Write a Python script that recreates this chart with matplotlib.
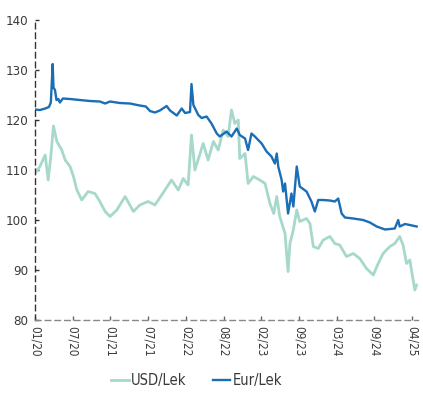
import matplotlib
matplotlib.use("Agg")
import matplotlib.pyplot as plt
from matplotlib import font_manager

# Axis positions are in units of one tick interval (10 intervals, 01/20 .. 04/25)
tick_labels = ["01/20", "07/20", "01/21", "07/21", "02/22", "08/22",
               "02/23", "09/23", "03/24", "09/24", "04/25"]

eur_x = [0.00, 0.13, 0.27, 0.37, 0.42, 0.47, 0.49, 0.53, 0.57, 0.62, 0.66, 0.74,
         0.93, 1.19, 1.46, 1.72, 1.86, 1.99, 2.25, 2.52, 2.78, 2.94, 3.05, 3.18,
         3.31, 3.49, 3.58, 3.76, 3.89, 3.98, 4.11, 4.15, 4.20, 4.33, 4.42, 4.55,
         4.68, 4.82, 4.90, 5.08, 5.21, 5.35, 5.43, 5.57, 5.65, 5.74, 5.83, 6.01,
         6.14, 6.27, 6.36, 6.41, 6.45, 6.54, 6.58, 6.63, 6.71, 6.80, 6.85, 6.94,
         7.02, 7.20, 7.33, 7.42, 7.51, 7.64, 7.82, 7.95, 8.04, 8.13, 8.22, 8.44,
         8.70, 8.88, 9.06, 9.28, 9.54, 9.63, 9.67, 9.81, 9.94, 10.12]
eur_lek = [122.1, 122.0, 122.3, 122.6, 123.5, 131.2, 126.5, 126.0, 124.0, 124.2,
           123.5, 124.3, 124.2, 124.0, 123.8, 123.7, 123.3, 123.7, 123.4, 123.3,
           122.9, 122.7, 121.8, 121.5, 121.9, 122.8, 121.9, 120.9, 122.3, 121.4,
           121.6, 127.2, 123.0, 121.0, 120.4, 120.7, 119.3, 117.3, 116.7, 117.7,
           116.7, 118.3, 117.0, 116.3, 114.0, 117.3, 116.7, 115.3, 113.7, 112.7,
           111.3, 113.3, 110.7, 108.0, 105.7, 107.3, 101.3, 105.3, 102.7, 110.7,
           106.7, 105.7, 103.7, 101.7, 104.0, 104.0, 103.9, 103.7, 104.3, 101.3,
           100.5, 100.3, 100.0, 99.5, 98.7, 98.1, 98.3, 100.0, 98.7, 99.2, 99.0,
           98.7]

usd_x = [0.00, 0.13, 0.27, 0.35, 0.42, 0.49, 0.58, 0.71, 0.80, 0.93, 1.02, 1.11,
         1.24, 1.41, 1.59, 1.72, 1.86, 1.99, 2.17, 2.39, 2.61, 2.78, 3.00, 3.18,
         3.36, 3.62, 3.80, 3.93, 4.06, 4.15, 4.24, 4.46, 4.59, 4.73, 4.86, 4.99,
         5.12, 5.21, 5.30, 5.39, 5.43, 5.57, 5.65, 5.79, 5.96, 6.10, 6.23, 6.33,
         6.41, 6.49, 6.63, 6.71, 6.76, 6.85, 6.94, 7.02, 7.20, 7.29, 7.38, 7.51,
         7.64, 7.82, 7.95, 8.08, 8.26, 8.44, 8.61, 8.79, 8.97, 9.10, 9.23, 9.41,
         9.54, 9.67, 9.76, 9.85, 9.94, 10.01, 10.07, 10.12]
usd_lek = [109.3, 110.7, 113.0, 108.0, 112.7, 118.8, 115.7, 114.0, 112.0, 110.7,
           108.7, 106.0, 104.0, 105.7, 105.3, 103.7, 101.7, 100.7, 102.0, 104.7,
           101.7, 103.0, 103.7, 103.0, 105.0, 108.0, 106.0, 108.3, 107.0, 117.0,
           110.0, 115.3, 112.0, 115.7, 114.0, 118.0, 116.7, 122.0, 119.3, 120.0,
           112.3, 113.3, 107.3, 108.7, 108.0, 107.3, 103.3, 101.3, 104.7, 100.7,
           97.3, 89.7, 95.3, 98.0, 102.0, 99.7, 100.3, 99.3, 94.7, 94.3, 96.0,
           96.7, 95.3, 95.0, 92.7, 93.3, 92.3, 90.3, 89.0, 91.3, 93.3, 94.7, 95.3,
           96.7, 95.0, 91.3, 92.0, 88.7, 86.0, 87.0]

y_ticks = [80, 90, 100, 110, 120, 130, 140]

# Prefer a condensed face when one is installed
names = {f.name for f in font_manager.fontManager.ttflist}
condensed = [f for f in font_manager.fontManager.ttflist
             if f.name == "DejaVu Sans" and f.stretch in ("condensed", "semi-condensed")]
if "Liberation Sans Narrow" in names:
    plt.rcParams["font.family"] = ["Liberation Sans Narrow", "DejaVu Sans"]
else:
    plt.rcParams["font.family"] = ["DejaVu Sans"]
    if condensed:
        plt.rcParams["font.stretch"] = "condensed"

fig = plt.figure(figsize=(4.23, 3.94), dpi=100)
ax = fig.add_axes([0.0827, 0.1878, 0.905, 0.7614])

usd_color = "#a6d8cb"
eur_color = "#1a6eb5"
ax.plot(usd_x, usd_lek, color=usd_color, lw=2.0, label="USD/Lek", solid_joinstyle="round")
ax.plot(eur_x, eur_lek, color=eur_color, lw=1.7, label="Eur/Lek", solid_joinstyle="round")

ax.set_xlim(0, 10.15)
ax.set_ylim(80, 140)
ax.set_yticks(y_ticks)
ax.set_xticks(range(len(tick_labels)))
ax.set_xticklabels(tick_labels, rotation=270, va="top", ha="center")

for side in ("top", "right"):
    ax.spines[side].set_visible(False)
ax.spines["left"].set_linestyle((0, (4, 3)))
ax.spines["left"].set_color("#333333")
ax.spines["left"].set_linewidth(1.0)
ax.spines["bottom"].set_linestyle((0, (4, 3)))
ax.spines["bottom"].set_color("#888888")
ax.spines["bottom"].set_linewidth(1.0)

ax.tick_params(axis="y", direction="in", length=3, width=1, color="#333333",
               labelsize=9.5, labelcolor="#3a3a3a", pad=5)
ax.tick_params(axis="x", direction="in", length=3, width=1, color="#666666",
               labelsize=8.5, labelcolor="#3a3a3a", pad=4)

leg = fig.legend(loc="center", bbox_to_anchor=(0.465, 0.033), ncol=2, frameon=False,
                 fontsize=10.5, handlelength=1.2, handletextpad=0.15, columnspacing=1.8)
for t in leg.get_texts():
    t.set_color("#3a3a3a")

fig.savefig("out.png", dpi=100)
